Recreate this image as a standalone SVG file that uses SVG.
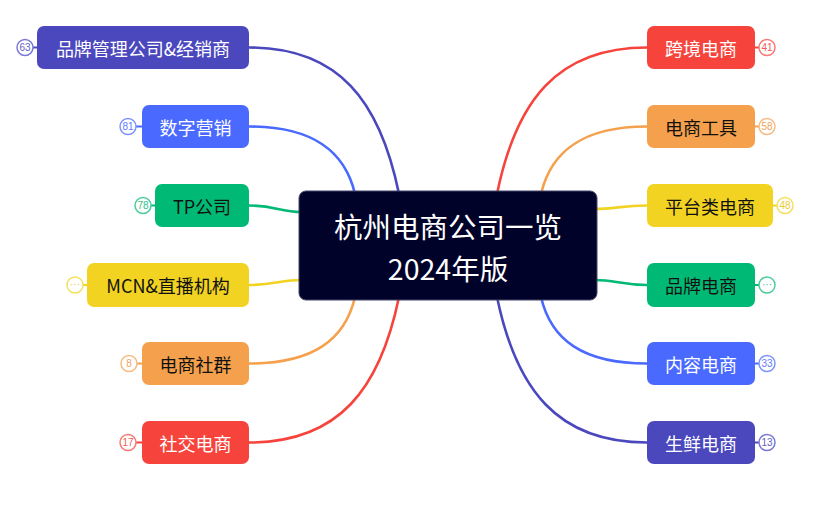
<svg xmlns="http://www.w3.org/2000/svg" width="818" height="507" viewBox="0 0 818 507">
<style>
.lbl{font-family:"Noto Sans CJK SC","Liberation Sans",sans-serif;font-size:18px;text-anchor:middle;dominant-baseline:central}
.w{fill:#ffffff}.k{fill:#111111}
.title{font-family:"Noto Sans CJK SC","Liberation Sans",sans-serif;font-size:28.5px;fill:#ffffff;text-anchor:middle;dominant-baseline:central}
.bd{fill:#ffffff;stroke-width:1.5}
.bt{font-family:"Liberation Sans","Noto Sans",sans-serif;font-size:10px;text-anchor:middle;dominant-baseline:central}
.con path{fill:none;stroke-width:2.6;stroke-linecap:round}
.pu{fill:#4b48be}.bl{fill:#4a69ff}.gr{fill:#00b974}.ye{fill:#f2d321}.or{fill:#f5a04c}.re{fill:#f6443d}
</style>
<rect width="818" height="507" fill="#ffffff"/>
<g id="connectors" class="con">
<path d="M249,47.5 C339,47.5 380,101 399,194" stroke="#4b48be"/>
<path d="M249,126.5 C313,126.5 345,151 355,194" stroke="#4a69ff"/>
<path d="M249,205.5 C275,205.5 280,212 302,212" stroke="#00b974"/>
<path d="M249,285 C275,285 280,280 302,280" stroke="#f2d321"/>
<path d="M249,363.5 C313,363.5 345,340 355,297" stroke="#f5a04c"/>
<path d="M249,442.5 C339,442.5 380,389 399,297" stroke="#f6443d"/>
<path d="M647,47.5 C557,47.5 516,101 497,194" stroke="#f6443d"/>
<path d="M647,126.5 C583,126.5 551,151 541,194" stroke="#f5a04c"/>
<path d="M647,205.5 C621,205.5 616,209 594,209" stroke="#f2d321"/>
<path d="M647,285 C621,285 616,280 594,280" stroke="#00b974"/>
<path d="M647,363.5 C583,363.5 551,340 541,297" stroke="#4a69ff"/>
<path d="M647,442.5 C557,442.5 516,389 497,297" stroke="#4b48be"/>
</g>
<g id="center">
<rect x="299" y="191" width="298" height="109" rx="7" fill="#000229" stroke="#45476a" stroke-width="1"/>
<text class="title" x="448" y="225">杭州电商公司一览</text>
<text class="title" x="448" y="267">2024年版</text>
</g>
<g id="n-l1">
<line x1="33" y1="47.5" x2="37" y2="47.5" stroke="#4b48be" stroke-width="2"/>
<circle class="bd" cx="25" cy="47.5" r="8" stroke="#7a78d4"/>
<text class="bt" x="25" y="47.5" fill="#6462c9">63</text>
<rect class="pu" x="37" y="26" width="212" height="43" rx="7"/>
<text class="lbl w" x="143" y="47.5">品牌管理公司&amp;经销商</text>
</g>
<g id="n-l2">
<line x1="136" y1="126.5" x2="142" y2="126.5" stroke="#4a69ff" stroke-width="2"/>
<circle class="bd" cx="128" cy="126.5" r="8" stroke="#7d94ff"/>
<text class="bt" x="128" y="126.5" fill="#5f7bff">81</text>
<rect class="bl" x="142" y="105" width="107" height="43" rx="7"/>
<text class="lbl w" x="195.5" y="126.5">数字营销</text>
</g>
<g id="n-l3">
<line x1="151" y1="205.5" x2="155" y2="205.5" stroke="#00b974" stroke-width="2"/>
<circle class="bd" cx="143" cy="205.5" r="8" stroke="#4ccc9a"/>
<text class="bt" x="143" y="205.5" fill="#2fbf88">78</text>
<rect class="gr" x="155" y="184" width="94" height="43" rx="7"/>
<text class="lbl k" x="202" y="205.5">TP公司</text>
</g>
<g id="n-l4">
<line x1="83" y1="285" x2="87" y2="285" stroke="#f2d321" stroke-width="2"/>
<circle class="bd" cx="75" cy="285" r="8" stroke="#f5df5c"/>
<text class="bt" x="75" y="284" fill="#eccb2a">···</text>
<rect class="ye" x="87" y="263" width="162" height="44" rx="7"/>
<text class="lbl k" x="168" y="285">MCN&amp;直播机构</text>
</g>
<g id="n-l5">
<line x1="137" y1="363.5" x2="142" y2="363.5" stroke="#f5a04c" stroke-width="2"/>
<circle class="bd" cx="129" cy="363.5" r="8" stroke="#f7bb80"/>
<text class="bt" x="129" y="363.5" fill="#f3a35a">8</text>
<rect class="or" x="142" y="342" width="107" height="43" rx="7"/>
<text class="lbl k" x="195.5" y="363.5">电商社群</text>
</g>
<g id="n-l6">
<line x1="136" y1="442.5" x2="142" y2="442.5" stroke="#f6443d" stroke-width="2"/>
<circle class="bd" cx="128" cy="442.5" r="8" stroke="#f87a75"/>
<text class="bt" x="128" y="442.5" fill="#f45a54">17</text>
<rect class="re" x="142" y="421" width="107" height="43" rx="7"/>
<text class="lbl w" x="195.5" y="442.5">社交电商</text>
</g>
<g id="n-r1">
<line x1="755" y1="47.5" x2="759" y2="47.5" stroke="#f6443d" stroke-width="2"/>
<circle class="bd" cx="767" cy="47.5" r="8" stroke="#f87a75"/>
<text class="bt" x="767" y="47.5" fill="#f45a54">41</text>
<rect class="re" x="647" y="26" width="108" height="43" rx="7"/>
<text class="lbl w" x="701" y="47.5">跨境电商</text>
</g>
<g id="n-r2">
<line x1="755" y1="126.5" x2="759" y2="126.5" stroke="#f5a04c" stroke-width="2"/>
<circle class="bd" cx="767" cy="126.5" r="8" stroke="#f7bb80"/>
<text class="bt" x="767" y="126.5" fill="#f3a35a">58</text>
<rect class="or" x="647" y="105" width="108" height="43" rx="7"/>
<text class="lbl k" x="701" y="126.5">电商工具</text>
</g>
<g id="n-r3">
<line x1="773" y1="205.5" x2="777" y2="205.5" stroke="#f2d321" stroke-width="2"/>
<circle class="bd" cx="785" cy="205.5" r="8" stroke="#f5df5c"/>
<text class="bt" x="785" y="205.5" fill="#eccb2a">48</text>
<rect class="ye" x="647" y="184" width="126" height="43" rx="7"/>
<text class="lbl k" x="710" y="205.5">平台类电商</text>
</g>
<g id="n-r4">
<line x1="755" y1="285" x2="759" y2="285" stroke="#00b974" stroke-width="2"/>
<circle class="bd" cx="767" cy="285" r="8" stroke="#4ccc9a"/>
<text class="bt" x="767" y="284" fill="#2fbf88">···</text>
<rect class="gr" x="647" y="263" width="108" height="44" rx="7"/>
<text class="lbl k" x="701" y="285">品牌电商</text>
</g>
<g id="n-r5">
<line x1="755" y1="363.5" x2="759" y2="363.5" stroke="#4a69ff" stroke-width="2"/>
<circle class="bd" cx="767" cy="363.5" r="8" stroke="#7d94ff"/>
<text class="bt" x="767" y="363.5" fill="#5f7bff">33</text>
<rect class="bl" x="647" y="342" width="108" height="43" rx="7"/>
<text class="lbl w" x="701" y="363.5">内容电商</text>
</g>
<g id="n-r6">
<line x1="755" y1="442.5" x2="759" y2="442.5" stroke="#4b48be" stroke-width="2"/>
<circle class="bd" cx="767" cy="442.5" r="8" stroke="#7a78d4"/>
<text class="bt" x="767" y="442.5" fill="#6462c9">13</text>
<rect class="pu" x="647" y="421" width="108" height="43" rx="7"/>
<text class="lbl w" x="701" y="442.5">生鲜电商</text>
</g>
</svg>
